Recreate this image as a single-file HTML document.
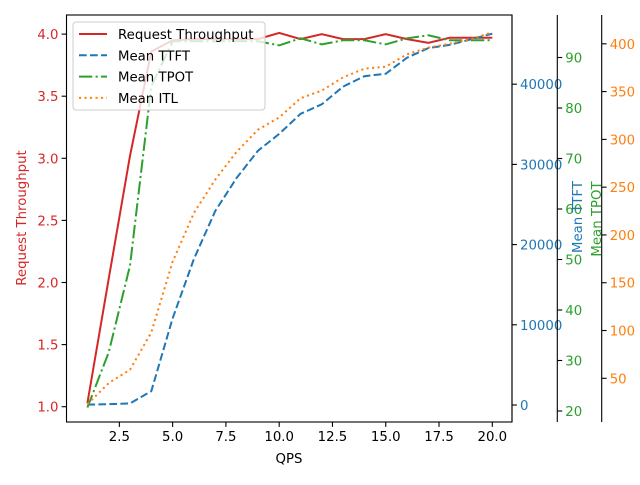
<!DOCTYPE html>
<html><head><meta charset="utf-8"><style>
body{margin:0;background:#fff}
svg{font-family:"DejaVu Sans","Liberation Sans",sans-serif}
</style></head><body>
<svg id="c" width="640" height="480"></svg>
<script>
const qps=[1,2,3,4,5,6,7,8,9,10,11,12,13,14,15,16,17,18,19,20];
const throughput=[1.03,2.03,3.02,3.86,3.95,3.96,3.96,3.96,3.96,4.01,3.96,4.0,3.96,3.96,4.0,3.96,3.93,3.97,3.97,3.97];
const ttft=[50,100,200,1720,10800,18200,24200,28300,31700,33800,36300,37500,39700,41000,41300,43300,44500,44900,45600,46300];
const tpot=[20.7,31.6,48.8,84.3,93.2,93.2,93.2,93.2,93.2,92.4,93.8,92.6,93.4,93.4,92.6,93.8,94.4,93.4,93.4,93.4];
const itl=[23,45,59,98,172,223,258,287,310,323,343,351,365,374,376,389,396,400,405,412];
const xTicks=[2.5,5.0,7.5,10.0,12.5,15.0,17.5,20.0];
const yTicks=[1.0,1.5,2.0,2.5,3.0,3.5,4.0];
const ttftTicks=[0,10000,20000,30000,40000];
const tpotTicks=[20,30,40,50,60,70,80,90];
const itlTicks=[50,100,150,200,250,300,350,400];

const NS="http://www.w3.org/2000/svg",svg=document.getElementById('c');
function el(t,a,p){const e=document.createElementNS(NS,t);for(const k in a)e.setAttribute(k,a[k]);(p||svg).appendChild(e);return e;}
const L=66.5,R=512,T=15,B=422;
const X=v=>87.4+(v-1)*21.31;
const Y=v=>406.7-(v-1)*124.2;
const Yttft=v=>405-v*0.00802;
const Ytpot=v=>411-(v-20)*5.05;
const Yitl=v=>378.3-(v-50)*0.9557;
const RED="#d62728",BLUE="#1f77b4",GREEN="#2ca02c",ORANGE="#ff7f0e";
const DASH='7.7,3.3',DASHDOT='13.3,3.3,2.1,3.3',DOT='2.1,3.4';
const FS=13.3;

function series(vals,yf,color,dash,name){
  const d=vals.map((v,i)=>(i?'L':'M')+X(qps[i]).toFixed(1)+','+yf(v).toFixed(1)).join('');
  const p=el('path',{d:d,fill:'none',stroke:color,'stroke-width':2,'stroke-dasharray':dash});
  
  
}
series(throughput,Y,RED,'none','throughput-line');
series(ttft,Yttft,BLUE,DASH,'ttft-line');
series(tpot,Ytpot,GREEN,DASHDOT,'tpot-line');
series(itl,Yitl,ORANGE,DOT,'itl-line');

const fr=el('rect',{x:L,y:T,width:R-L,height:B-T,fill:'none',stroke:'#000','stroke-width':1.1});



function txt(x,y,s,attrs,name){const t=el('text',Object.assign({x:x,y:y,'font-size':FS},attrs));t.textContent=s;return t;}
xTicks.forEach(v=>{el('line',{x1:X(v),x2:X(v),y1:B,y2:B+4.9,stroke:'#000','stroke-width':1.1});txt(X(v),B+19,v.toFixed(1),{'text-anchor':'middle',fill:'#000'},'x-tick-label');});
yTicks.forEach(v=>{el('line',{x1:L,x2:L-4.9,y1:Y(v),y2:Y(v),stroke:'#000','stroke-width':1.1});txt(L-8,Y(v)+5,v.toFixed(1),{'text-anchor':'end',fill:RED},'y-tick-label');});
function rightAxis(x,ticks,yf,color,name,fmt){
  const s=el('line',{x1:x,x2:x,y1:T,y2:B,stroke:'#000','stroke-width':1.1});
  
  
  ticks.forEach(v=>{el('line',{x1:x,x2:x+4.9,y1:yf(v),y2:yf(v),stroke:'#000','stroke-width':1.1});txt(x+8,yf(v)+5,fmt(v),{fill:color},name+'-tick-label');});
}
rightAxis(R,ttftTicks,Yttft,BLUE,'ttft-axis',v=>String(v));
rightAxis(557.3,tpotTicks,Ytpot,GREEN,'tpot-axis',v=>String(v));
rightAxis(601.7,itlTicks,Yitl,ORANGE,'itl-axis',v=>String(v));

txt(289,463,'QPS',{'text-anchor':'middle',fill:'#000'},'x-axis-title');
txt(0,0,'Request Throughput',{'text-anchor':'middle',fill:RED,transform:'translate(26,218) rotate(-90)'},'y-axis-title');
txt(0,0,'Mean TTFT',{'text-anchor':'middle',fill:BLUE,transform:'translate(582,217) rotate(-90)'},'ttft-axis-title');
txt(0,0,'Mean TPOT',{'text-anchor':'middle',fill:GREEN,transform:'translate(601,219) rotate(-90)'},'tpot-axis-title');

const lg=el('g',{});


el('rect',{x:73,y:22,width:192,height:88,rx:3,fill:'rgba(255,255,255,0.8)',stroke:'#ccc'},lg);
const leg=[['Request Throughput',RED,'none'],['Mean TTFT',BLUE,DASH],['Mean TPOT',GREEN,DASHDOT],['Mean ITL',ORANGE,DOT]];
leg.forEach((e,i)=>{const y=34+i*21.3;
  el('line',{x1:79,x2:107,y1:y,y2:y,stroke:e[1],'stroke-width':2,'stroke-dasharray':e[2]},lg);
  const t=txt(118,y+5,e[0],{fill:'#000'},'legend-entry');lg.appendChild(t);});
</script>
</body></html>
